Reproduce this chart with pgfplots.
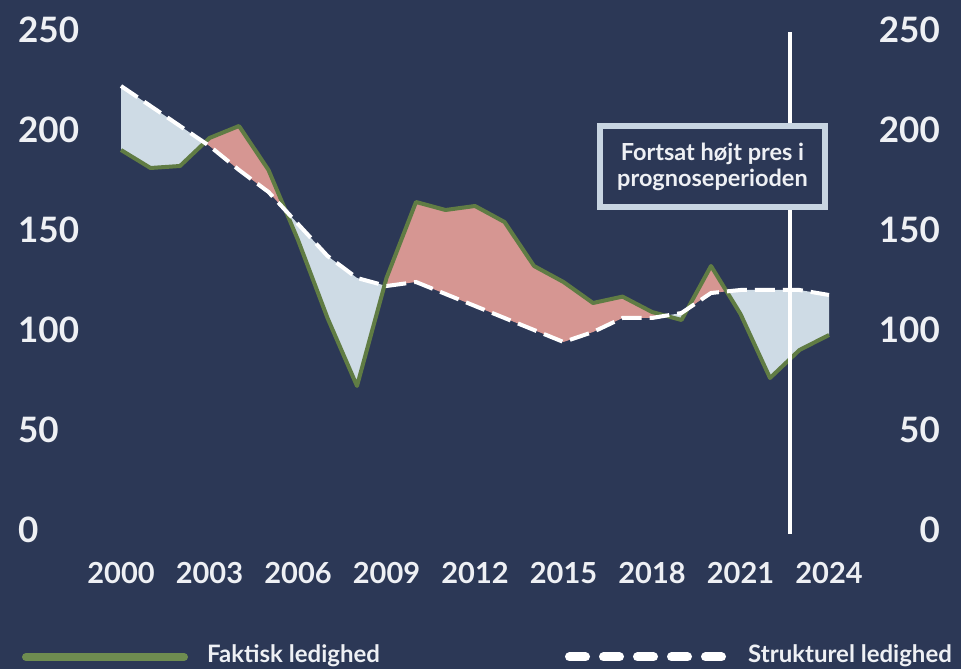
\documentclass[border=0pt]{standalone}
\usepackage{fontspec}
\setmainfont{Lato}
\usepackage{pgfplots}
\usepackage{pgfplotstable}
\pgfplotsset{compat=1.18}
\usepgfplotslibrary{fillbetween}

\definecolor{bg}{RGB}{44,56,86}
\definecolor{lineG}{RGB}{96,124,68}
\definecolor{legG}{RGB}{110,140,80}
\definecolor{pinkF}{RGB}{214,150,146}
\definecolor{blueF}{RGB}{206,219,229}
\definecolor{boxC}{RGB}{200,213,226}
\definecolor{txt}{RGB}{238,240,244}

% faktisk og strukturel ledighed (1.000 personer)
\pgfplotstableread{
year actual structural
2000 190 222
2001 181 212
2002 182 202
2003 196 192
2004 202 180
2005 180 169
2006 145 153
2007 106 137
2008 72  126
2009 126 122
2010 164 124
2011 160 118
2012 162 112
2013 154 106
2014 132 100
2015 124 94
2016 113.5 99
2017 116.7 106
2018 109 106
2019 105 108.5
2020 132 118.5
2021 108 120
2022 76 120
2023 90 120
2024 97.5 117.5
}\ledighed

\begin{document}
\begin{tikzpicture}[x=1pt,y=1pt]
\fill[bg] (0,0) rectangle (961,669);

\pgfplotsset{
  base/.style={
    at={(121pt,139pt)}, anchor=south west,
    scale only axis, width=708pt, height=500pt,
    xmin=2000, xmax=2024, ymin=0, ymax=250,
    axis line style={draw=none}, major tick length=0pt,
    ytick={0,50,...,250},
    /pgf/number format/assume math mode=true,
    /pgf/number format/1000 sep={},
    clip=false,
  }
}

\begin{axis}[base,
  xtick={2000,2003,...,2024},
  xticklabel style={anchor=north, yshift=-32pt, inner sep=0pt, text=txt,
    font=\fontsize{29}{32}\selectfont\bfseries},
  yticklabel style={anchor=west, xshift=-103pt, inner sep=0pt, text=txt,
    font=\fontsize{35}{40}\selectfont\bfseries},
]
\addplot[name path=actual, draw=none] table[x=year, y=actual] {\ledighed};
\addplot[name path=struct, draw=none] table[x=year, y=structural] {\ledighed};
\addplot[fill=pinkF, draw=none] fill between[of=actual and struct, on layer=main, split,
  every even segment/.style={fill=blueF},
  every odd segment/.style={fill=pinkF}];
\addplot[lineG, line width=4pt, line join=round] table[x=year, y=actual] {\ledighed};
\addplot[white, line width=4pt, dash pattern=on 20pt off 8pt] table[x=year, y=structural] {\ledighed};

\draw[white, line width=3.5pt] (axis cs:2022.67,-2) -- (axis cs:2022.67,249);
\node[draw=boxC, line width=6pt, fill=bg, text=txt, minimum width=225pt,
  minimum height=81pt, align=center, inner sep=0pt,
  font=\fontsize{23.5}{26}\selectfont\bfseries]
  at (axis cs:2020.05,181.75) {Fortsat højt pres i\\prognoseperioden};
\end{axis}

\begin{axis}[base,
  xtick=\empty,
  yticklabel pos=right,
  yticklabel style={anchor=east, xshift=111pt, inner sep=0pt, text=txt,
    font=\fontsize{35}{40}\selectfont\bfseries},
]
\addplot[draw=none] table[x=year, y=actual] {\ledighed};
\end{axis}

% legend
\draw[legG, line width=8pt, line cap=round] (26,12) -- (184,12);
\node[anchor=base west, inner sep=0pt, text=txt, font=\fontsize{24}{28}\selectfont\bfseries]
  at (207,6) {Faktisk ledighed};
\draw[white, line width=9pt, line cap=round, dash pattern=on 16pt off 18pt]
  (569.5,12) -- (722,12);
\node[anchor=base west, inner sep=0pt, text=txt, font=\fontsize{24}{28}\selectfont\bfseries]
  at (748,6) {Strukturel ledighed};

\pgfresetboundingbox
\useasboundingbox (0,0) rectangle (961,669);
\end{tikzpicture}
\end{document}
